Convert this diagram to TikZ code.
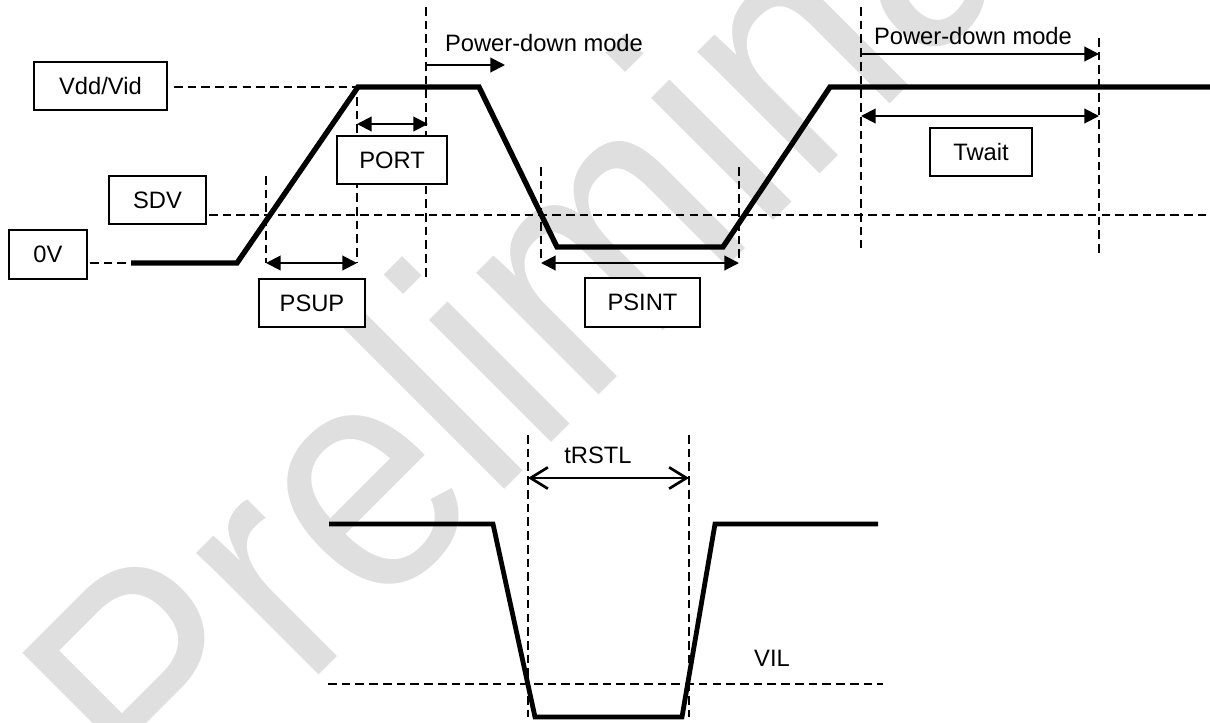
\documentclass[tikz,border=0pt]{standalone}
\usepackage{fontspec}
\setmainfont{Liberation Sans}
\usetikzlibrary{arrows.meta}
\definecolor{wmgray}{RGB}{223,223,223}
\tikzset{
  lbl/.style={draw, line width=1.3pt, fill=white, inner sep=0pt, font=\fontsize{17.8}{21}\selectfont},
  txt/.style={inner sep=0pt, font=\fontsize{17.8}{21}\selectfont},
  wave/.style={line width=4pt, line join=miter, line cap=butt},
  guide/.style={line width=1.1pt, dash pattern=on 6.5pt off 3.8pt},
  dimarrow/.style={line width=1.5pt, {Triangle[length=11pt,width=11pt]}-{Triangle[length=11pt,width=11pt]}},
  fwdarrow/.style={line width=1.5pt, -{Triangle[length=11pt,width=11pt]}},
  barbarrow/.style={line width=2pt, {Straight Barb[length=13pt,width=16pt]}-{Straight Barb[length=13pt,width=16pt]}},
}
\begin{document}
\begin{tikzpicture}[x=0.75pt,y=-0.75pt]
\useasboundingbox (0,0) rectangle (1210,722);
\fill[white] (0,0) rectangle (1210,722);
% watermark
\begin{scope}
  \clip (0,0) rectangle (1210,722);
  \node[rotate=45, anchor=base west, inner sep=0pt, text=wmgray,
        font=\fontsize{222.75}{220}\selectfont] (wm) at (164,830) {\scalebox{1}[1.1]{Preliminary}};
\end{scope}

% coordinates of the upper waveform
\coordinate (w0) at (131,263);
\coordinate (w1) at (237,263);
\coordinate (w2) at (358,87);
\coordinate (w3) at (479,87);
\coordinate (w4) at (557,247);
\coordinate (w5) at (723,247);
\coordinate (w6) at (830,87);
\coordinate (w7) at (1210,87);
% guide coordinates
\coordinate (sdvend) at (1210,215);
\coordinate (g1t) at (266,176); \coordinate (g1b) at (266,263);
\coordinate (g2t) at (357,97);  \coordinate (g2b) at (357,263);
\coordinate (g3t) at (426,7);   \coordinate (g3b) at (426,278);
\coordinate (g4t) at (541,167); \coordinate (g4b) at (541,258);
\coordinate (g5t) at (739,167); \coordinate (g5b) at (739,258);
\coordinate (g6t) at (861,7);   \coordinate (g6b) at (861,248);
\coordinate (g7t) at (1099,38); \coordinate (g7b) at (1099,253);
% arrow ends
\coordinate (a1l) at (266,263); \coordinate (a1r) at (357,263);
\coordinate (a2l) at (357,124); \coordinate (a2r) at (428,124);
\coordinate (a3l) at (541,263); \coordinate (a3r) at (739,263);
\coordinate (p1l) at (426,65);  \coordinate (p1r) at (505,65);
\coordinate (p2l) at (861,54);  \coordinate (p2r) at (1099,54);
\coordinate (twl) at (861,116); \coordinate (twr) at (1099,116);

% dashed guides (upper)
\draw[guide] (g1t) -- (g1b);
\draw[guide] (g2t) -- (g2b);
\draw[guide] (g3t) -- (g3b);
\draw[guide] (g4t) -- (g4b);
\draw[guide] (g5t) -- (g5b);
\draw[guide] (g6t) -- (g6b);
\draw[guide] (g7t) -- (g7b);

% labels
\node[lbl, minimum width=99.75pt, minimum height=36pt] (vdd) at (100.5,86) {Vdd/Vid};
\node[lbl, minimum width=72.75pt, minimum height=36pt] (sdv) at (157.5,200) {SDV};
\node[lbl, minimum width=58.5pt, minimum height=36.75pt] (zv) at (48,254.5) {0V};
\node[lbl, minimum width=82.5pt, minimum height=36pt] (port) at (392,160) {PORT};
\node[lbl, minimum width=79.5pt, minimum height=36pt] (psup) at (312,303) {PSUP};
\node[lbl, minimum width=86.25pt, minimum height=36.75pt] (psint) at (642.5,302.5) {PSINT};
\node[lbl, minimum width=76.5pt, minimum height=36pt] (twait) at (981,152) {Twait};

\draw[guide] ([xshift=4.5pt]vdd.east |- w2) -- (w2);
\draw[guide] ([xshift=1.5pt]sdv.east |- sdvend) -- (sdvend);
\draw[guide] ([xshift=1.5pt]zv.east |- w0) -- (w0);

% waveform
\draw[wave] (w0) -- (w1) -- (w2) -- (w3) -- (w4) -- (w5) -- (w6) -- (w7);

% arrows
\draw[dimarrow] (a1l) -- (a1r);
\draw[dimarrow] (a2l) -- (a2r);
\draw[dimarrow] (a3l) -- (a3r);
\draw[dimarrow] (twl) -- (twr);
\draw[fwdarrow] (p1l) -- (p1r);
\draw[fwdarrow] (p2l) -- (p2r);

\node[txt] (pd1) at (544,43) {Power-down mode};
\node[txt] (pd2) at (973,36) {Power-down mode};

% lower waveform
\coordinate (b0) at (329,524);
\coordinate (b1) at (493,524);
\coordinate (b2) at (535,717);
\coordinate (b3) at (682,717);
\coordinate (b4) at (715,524);
\coordinate (b5) at (878,524);
\coordinate (h1t) at (528,435); \coordinate (h1b) at (528,717);
\coordinate (h2t) at (689,435); \coordinate (h2b) at (689,717);
\coordinate (vil0) at (328,684); \coordinate (vil1) at (883,684);
\coordinate (r1) at (528,478); \coordinate (r2) at (689,478);

\draw[guide] (h1t) -- (h1b);
\draw[guide] (h2t) -- (h2b);
\draw[guide] (vil0) -- (vil1);
\draw[wave, line width=3.6pt] (b0) -- (b1) -- (b2) -- (b3) -- (b4) -- (b5);
\draw[barbarrow] (r1) -- (r2);
\node[txt] (trstl) at (598,455) {tRSTL};
\node[txt] (vil) at (772,658) {VIL};
\end{tikzpicture}
\end{document}
